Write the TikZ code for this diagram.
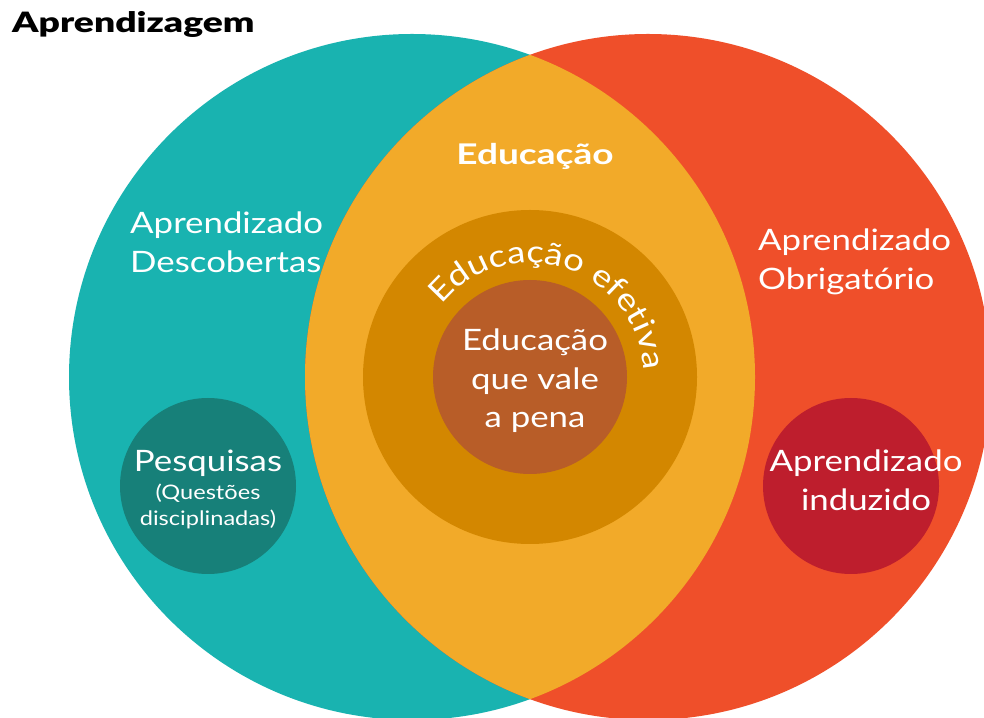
\documentclass[tikz,border=0pt]{standalone}
\usepackage{fontspec}
\setmainfont{Lato}[FakeStretch=1.18]
\newfontfamily\heavyfont{Lato Black}[FakeStretch=1.33]
\newfontfamily\boldfont{Lato}[FakeStretch=1.3]
\usetikzlibrary{decorations.text}
\definecolor{tealc}{HTML}{19B3B0}
\definecolor{redc}{HTML}{EF4F2A}
\definecolor{yellowc}{HTML}{F2AA29}
\definecolor{midc}{HTML}{D38700}
\definecolor{innerc}{HTML}{B85D28}
\definecolor{darkteal}{HTML}{178079}
\definecolor{crimson}{HTML}{BE1E2D}
\tikzset{
  lbl/.style={text=white, inner sep=0pt, anchor=base, font=\fontsize{29.5}{29.5}\selectfont},
  lblw/.style={lbl, anchor=base west},
  small/.style={lbl, font=\fontsize{20}{20}\selectfont},
}
\begin{document}
\begin{tikzpicture}[x=1pt,y=1pt]
\useasboundingbox (0,0) rectangle (984,717);
\clip (0,0) rectangle (984,717);
\fill[white] (0,0) rectangle (984,717);
% big circles
\fill[tealc] (412,340) circle (343);
\fill[redc] (648,340) circle (343);
\begin{scope}
  \clip (412,340) circle (343);
  \fill[yellowc] (648,340) circle (343);
\end{scope}
\fill[midc] (530,340) circle (167);
\fill[innerc] (530,340) circle (97);
\fill[darkteal] (208,231) circle (88);
\fill[crimson] (851,231) circle (88);
% curved text
\path[postaction={decorate, decoration={text along path, text align=left,
  text={|\fontsize{31}{31}\selectfont\color{white}|Educação efetiva}}}]
  (530,340) ++(141:114) arc[start angle=141, end angle=-40, radius=114];
% labels
\node[anchor=base west, inner sep=0pt, font=\heavyfont\fontsize{28}{28}\selectfont] (title) at (12,684) {Aprendizagem};
\node[lbl, font=\boldfont\bfseries\fontsize{28.5}{28.5}\selectfont] (edu) at (535,552) {Educação};
\node[lblw] (ad1) at (130,483) {Aprendizado};
\node[lblw] (ad2) at (130,444) {Descobertas};
\node[lblw] (ao1) at (758,466) {Aprendizado};
\node[lblw] (ao2) at (758,427) {Obrigatório};
\node[lbl] (vp1) at (535,366) {Educação};
\node[lbl] (vp2) at (535,327) {que vale};
\node[lbl] (vp3) at (535,289) {a pena};
\node[lbl] (pq1) at (208,245) {Pesquisas};
\node[small] (pq2) at (208,217) {(Questões};
\node[small] (pq3) at (208,191) {disciplinadas)};
\node[lbl] (ai1) at (866,245) {Aprendizado};
\node[lbl] (ai2) at (866,206) {induzido};
\end{tikzpicture}
\end{document}
